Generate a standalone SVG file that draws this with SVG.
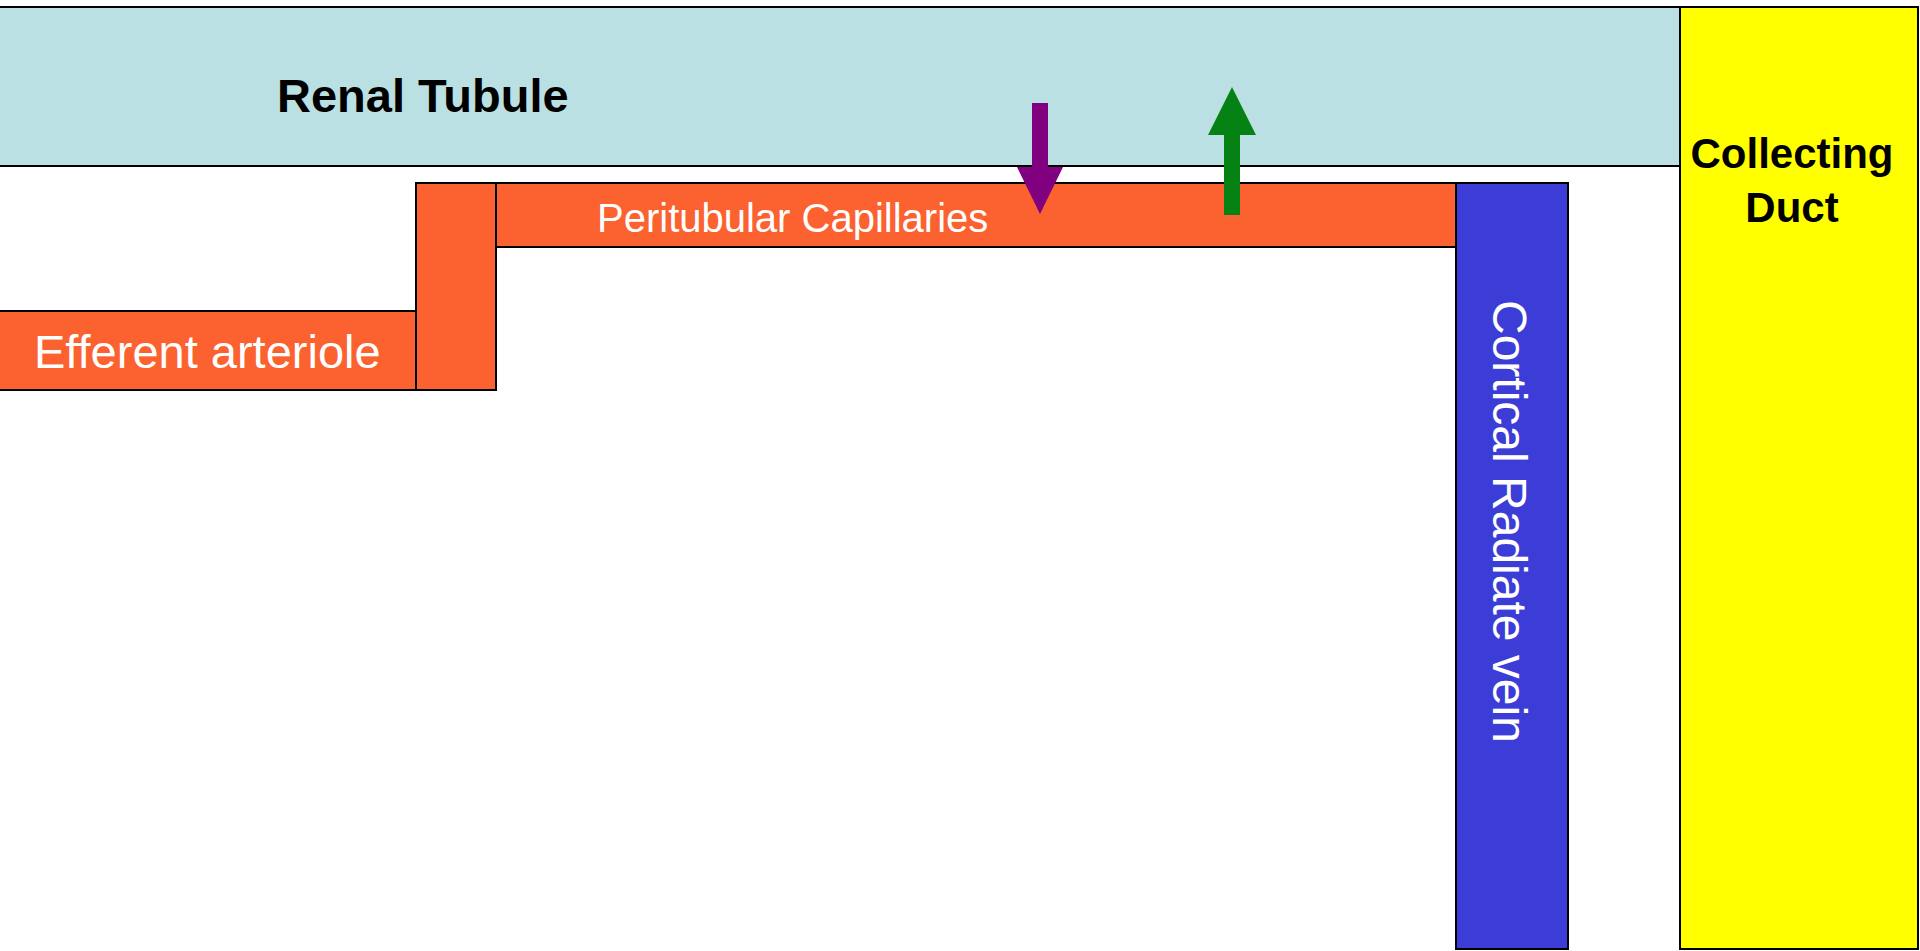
<svg xmlns="http://www.w3.org/2000/svg" width="1920" height="951" viewBox="0 0 1920 951">
<style>
.box{stroke:#000;stroke-width:2}
.tub{fill:#BAE0E3}
.art{fill:#FC6130}
.vein{fill:#3C3CD7}
.duct{fill:#FFFF00}
.lbl{font-family:"Liberation Sans",Arial,sans-serif}
.w{fill:#fff}
.b{fill:#000;font-weight:bold}
</style>
<rect width="1920" height="951" fill="#fff"/>
<g id="renal-tubule">
<rect class="box tub" x="-1" y="7" width="1809" height="159"/>
<text class="lbl b" x="277" y="112" font-size="47">Renal Tubule</text>
</g>
<g id="collecting-duct">
<rect class="box duct" x="1680" y="7" width="238" height="942"/>
<text class="lbl b" x="1792" y="168" font-size="42" text-anchor="middle">Collecting</text>
<text class="lbl b" x="1792" y="222" font-size="42" text-anchor="middle">Duct</text>
</g>
<g id="efferent-arteriole">
<rect class="box art" x="-1" y="311" width="417" height="79"/>
<text class="lbl w" x="34" y="368" font-size="47">Efferent arteriole</text>
</g>
<g id="arteriole-connector">
<rect class="box art" x="416" y="183" width="80" height="207"/>
</g>
<g id="peritubular-capillaries">
<rect class="box art" x="496" y="183" width="960" height="64"/>
<text class="lbl w" x="597" y="232" font-size="40">Peritubular Capillaries</text>
</g>
<g id="cortical-radiate-vein">
<rect class="box vein" x="1456" y="183" width="112" height="766"/>
<text class="lbl w" transform="translate(1493,300) rotate(90)" font-size="48">Cortical Radiate vein</text>
</g>
<g id="connectors">
<polygon fill="#800080" points="1032,103 1048,103 1048,167 1063,167 1040,214 1017,167 1032,167"/>
<polygon fill="#068214" points="1232,87 1256,135 1240,135 1240,215 1224,215 1224,135 1208,135"/>
</g>
</svg>
